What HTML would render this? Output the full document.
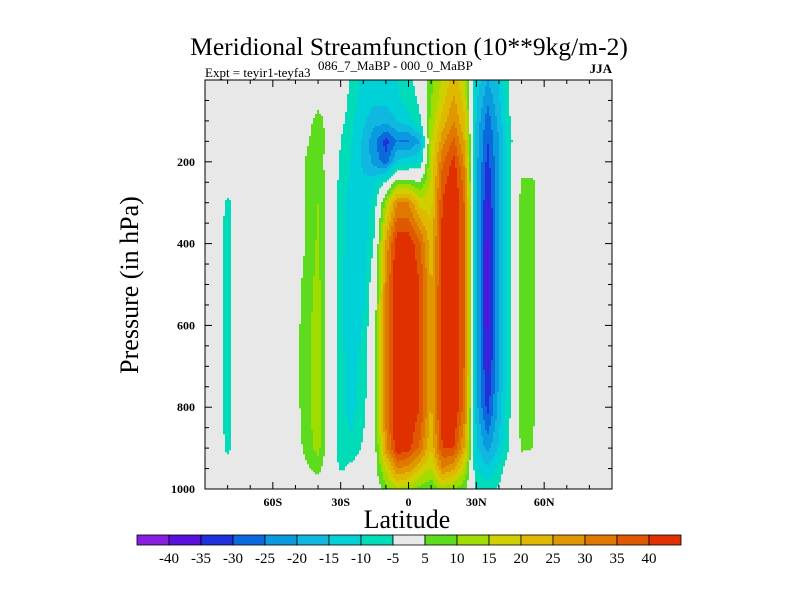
<!DOCTYPE html>
<html><head><meta charset="utf-8"><style>
html,body{margin:0;padding:0;background:#fff;}
svg{display:block;font-family:"Liberation Serif",serif;}
</style></head><body>
<svg id="chart" width="800" height="600" viewBox="0 0 800 600">
<text x="409" y="55" text-anchor="middle" font-size="25.5">Meridional Streamfunction (10**9kg/m-2)</text>
<text x="205" y="77" font-size="13">Expt = teyir1-teyfa3</text>
<text x="318" y="70" font-size="13">086_7_MaBP - 000_0_MaBP</text>
<text x="612" y="73" font-size="13" font-weight="bold" text-anchor="end">JJA</text>
<g id="field"></g>
<g id="axes"></g>
<text x="407" y="528" text-anchor="middle" font-size="26">Latitude</text>
<text transform="translate(138,285) rotate(-90)" text-anchor="middle" font-size="26">Pressure (in hPa)</text>
<g id="cbar"></g>
</svg>
<script>
const lats = [-85,-80,-75,-70,-65,-60,-55,-50,-45,-40,-35,-30,-25,-20,-15,-10,-5,0,5,10,15,20,25,30,35,40,45,50,55,60];
const levels = [0,50,100,150,200,250,300,400,500,600,700,800,900,950,1000];
const field = [
[0,0,0,0,0,0,0,0,0,0,0,0,-7,-12,-13,-12,-10,-6,-3,8,16,22,16,-12,-20,-14,-3,0,0,0],
[0,0,0,0,0,0,0,0,0,2,0,0,-8,-12,-14,-14,-11,-8,-4,10,18,26,18,-14,-24,-16,-4,0,0,0],
[0,0,0,0,0,0,0,0,2,8,2,-3,-9,-14,-18,-18,-15,-12,-6,12,22,30,20,-16,-28,-18,-5,0,0,0],
[0,0,0,0,0,0,0,0,4,9,2,-5,-10,-16,-24,-32,-25,-26,-20,14,28,36,24,-18,-30,-20,-6,0,0,0],
[0,0,0,0,0,0,0,0,6,9,1,-6,-11,-16,-22,-28,-14,-12,-10,16,34,42,28,-18,-32,-20,-5,2,2,0],
[0,0,0,0,0,0,0,0,6,10,1,-7,-12,-14,-12,-4,8,8,5,16,38,44,32,-18,-34,-20,-5,6,6,0],
[0,-7,0,0,0,0,0,0,6,10,1,-8,-13,-14,-8,12,30,30,18,18,40,46,34,-18,-36,-20,-5,7,6,0],
[0,-8,0,0,0,0,0,0,6,11,1,-8,-14,-14,-4,26,44,44,36,22,42,46,34,-18,-38,-20,-5,8,6,0],
[0,-8,0,0,0,0,0,3,7,12,1,-9,-14,-12,0,30,46,46,40,24,42,46,34,-18,-38,-20,-5,8,6,0],
[0,-8,0,0,0,0,0,3,8,13,1,-9,-13,-10,2,32,46,46,40,24,43,46,34,-18,-38,-20,-5,8,6,0],
[0,-8,0,0,0,0,0,3,8,14,1,-9,-12,-8,2,32,46,46,40,25,44,46,34,-18,-36,-20,-5,8,6,0],
[0,-8,0,0,0,0,0,3,8,14,1,-9,-12,-7,2,32,46,46,40,24,44,46,32,-18,-32,-18,-5,8,6,0],
[0,-7,0,0,0,0,0,2,7,12,1,-8,-9,-4,2,28,44,42,34,20,40,40,24,-14,-22,-14,-4,6,5,0],
[0,0,0,0,0,0,0,0,4,7,0,-6,-3,0,2,16,30,28,20,14,30,26,14,-10,-14,-8,0,0,0,0],
[0,0,0,0,0,0,0,0,0,0,0,0,0,0,0,8,14,12,8,6,12,10,6,-6,-8,-4,0,0,0,0]
];
const bounds = [-40,-35,-30,-25,-20,-15,-10,-5,5,10,15,20,25,30,35,40];
const boundLabels = ["-40","-35","-30","-25","-20","-15","-10","-5","5","10","15","20","25","30","35","40"];
const colors = ["#8a1ee0","#5a10dc","#2030dc","#0a6adc","#0a9ae0","#10b8e0","#00d0d8","#00dcb8","#e8e8e8","#5cdc1c","#a0dc00","#d0d000","#e0b800","#e09800","#e07800","#e05800","#e03000"];
const xTickLats = [-60,-30,0,30,60];
const xTickLabels = ["60S","30S","0","30N","60N"];
const yTickLevels = [200,400,600,800,1000];

const NS="http://www.w3.org/2000/svg";
const X0=205,X1=612,Y0=80,Y1=489;
const xs = lat => X0+(lat+90)/180*(X1-X0);
const ys = p => Y0+p/1000*(Y1-Y0);
const latOf = x => (x-X0)/(X1-X0)*180-90;
const pOf = y => (y-Y0)/(Y1-Y0)*1000;
function mk(tag,attrs,parent){const e=document.createElementNS(NS,tag);for(const k in attrs)e.setAttribute(k,attrs[k]);parent.appendChild(e);return e;}
function colAt(lat){
  if(lat<lats[0]||lat>lats[lats.length-1])return null;
  let i=0;while(i<lats.length-2&&lat>lats[i+1])i++;
  return [i,(lat-lats[i])/(lats[i+1]-lats[i])];
}
function val(lat,p){
  const c=colAt(lat); if(!c)return 0;
  let j=0;while(j<levels.length-2&&p>levels[j+1])j++;
  const t=Math.max(0,Math.min(1,(p-levels[j])/(levels[j+1]-levels[j])));
  const [i,s]=c;
  const a=field[j][i]*(1-s)+field[j][i+1]*s;
  const b=field[j+1][i]*(1-s)+field[j+1][i+1]*s;
  return a*(1-t)+b*t;
}
function bin(v){let k=0;while(k<bounds.length&&v>=bounds[k])k++;return k;}
const fg=document.getElementById('field');
const bg=mk('rect',{x:X0,y:Y0,width:X1-X0,height:Y1-Y0,fill:colors[8]},fg);


const C=2;
for(let y=Y0;y<Y1;y+=C){
  const p=pOf(y+C/2);
  let runStart=X0,runBin=-1;
  const flush=(xe)=>{ if(runBin>=0&&runBin!==8){
      const r=mk('rect',{x:runStart,y:y,width:xe-runStart,height:Math.min(C,Y1-y)+0.3,fill:colors[runBin]},fg);
      
      
  }};
  for(let x=X0;x<X1;x+=C){
    const b=bin(val(latOf(x+C/2),p));
    if(b!==runBin){flush(x);runStart=x;runBin=b;}
  }
  flush(X1);
}
const ax=document.getElementById('axes');
const fr=mk('rect',{x:X0,y:Y0,width:X1-X0,height:Y1-Y0,fill:'none',stroke:'#000','stroke-width':1},ax);


for(let lat=-80;lat<=80;lat+=10){
  const x=xs(lat),major=xTickLats.includes(lat),L=major?7:4;
  mk('line',{x1:x,x2:x,y1:Y1,y2:Y1-L,stroke:'#000'},ax);
  mk('line',{x1:x,x2:x,y1:Y0,y2:Y0+L,stroke:'#000'},ax);
}
xTickLats.forEach((lat,i)=>{
  const t=mk('text',{x:xs(lat),y:Y1+17,'text-anchor':'middle','font-size':12,'font-weight':'bold'},ax);
  t.textContent=xTickLabels[i];
  
  
});
for(let p=50;p<1000;p+=50){
  const y=ys(p),major=yTickLevels.includes(p),L=major?7:4;
  mk('line',{x1:X0,x2:X0+L,y1:y,y2:y,stroke:'#000'},ax);
  mk('line',{x1:X1,x2:X1-L,y1:y,y2:y,stroke:'#000'},ax);
}
yTickLevels.forEach(p=>{
  const t=mk('text',{x:X0-10,y:ys(p)+4,'text-anchor':'end','font-size':12,'font-weight':'bold'},ax);
  t.textContent=String(p);
  
  
});
const cb=document.getElementById('cbar');
const CB0=137,CBW=32,CBY=535,CBH=10;
colors.forEach((c,i)=>{
  const r=mk('rect',{x:CB0+i*CBW,y:CBY,width:CBW,height:CBH,fill:c,stroke:'#000','stroke-width':0.8},cb);
  
  
});
boundLabels.forEach((l,i)=>{
  const t=mk('text',{x:CB0+(i+1)*CBW,y:CBY+28,'text-anchor':'middle','font-size':15},cb);
  t.textContent=l;
  
  
});
</script>
</body></html>
